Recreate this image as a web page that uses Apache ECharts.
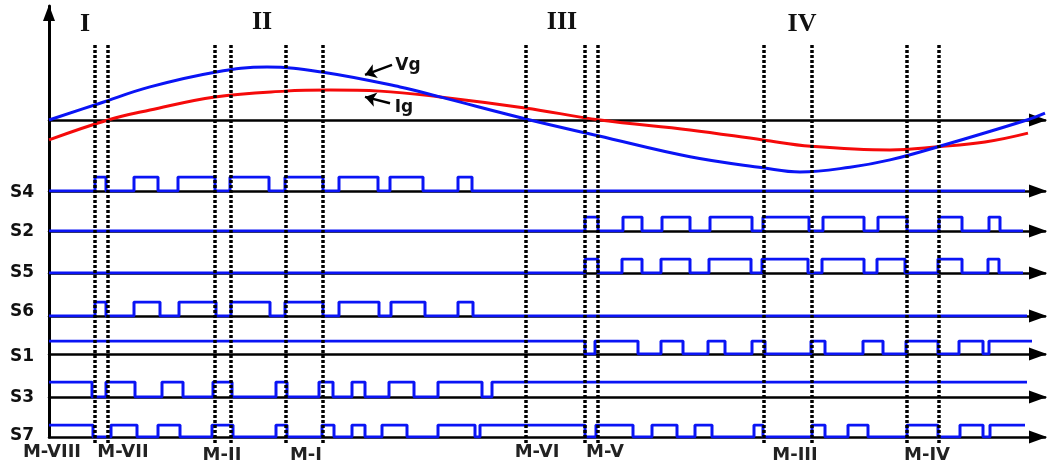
<!DOCTYPE html>
<html><head><meta charset="utf-8">
<script src="https://cdn.jsdelivr.net/npm/echarts@6/dist/echarts.min.js"></script>
<style>html,body{margin:0;padding:0;background:#fff}#c{width:1048px;height:465px}</style>
</head><body><div id="c"></div>
<script>
// ---------- data (time in arbitrary units, 0..996) ----------
const T_MAX = 996;
// grid voltage Vg (per unit)
const vgT = [0, 51, 101, 166, 218, 274, 351, 391, 481, 549, 641, 714, 751, 801, 841, 889, 978, 996];
const vgV = [0, 0.32, 0.63, 0.91, 1.01, 0.91, 0.63, 0.44, 0, -0.30, -0.70, -0.91, -0.99, -0.90, -0.76, -0.51, 0, 0.13];
// grid current Ig (per unit)
const igT = [0, 59, 101, 166, 236, 281, 331, 391, 476, 551, 641, 714, 762, 841, 889, 936, 979];
const igV = [-0.38, 0, 0.19, 0.44, 0.55, 0.57, 0.55, 0.44, 0.23, 0, -0.19, -0.38, -0.50, -0.57, -0.51, -0.42, -0.25];

// switching signals: initial level, toggle instants, end of trace
const signalNames = ['S4', 'S2', 'S5', 'S6', 'S1', 'S3', 'S7'];
const s4Init = 0, s4End = 976;
const s4Edges = [46, 57, 85, 109, 129, 166, 181, 220, 236, 274, 290, 329, 341, 374, 409, 423];
const s2Init = 0, s2End = 974;
const s2Edges = [536, 549, 574, 593, 613, 641, 661, 703, 714, 760, 774, 815, 829, 858, 890, 913, 940, 951];
const s5Init = 0, s5End = 974;
const s5Edges = [536, 549, 573, 593, 612, 641, 660, 702, 713, 759, 773, 815, 828, 856, 889, 913, 939, 950];
const s6Init = 0, s6End = 978;
const s6Edges = [46, 57, 85, 111, 130, 167, 182, 221, 236, 274, 290, 330, 342, 376, 409, 424];
const s1Init = 1, s1End = 983;
const s1Edges = [536, 546, 589, 612, 634, 659, 676, 703, 716, 762, 776, 814, 834, 857, 889, 910, 934, 940];
const s3Init = 1, s3End = 978;
const s3Edges = [43, 57, 86, 113, 134, 164, 183, 227, 238, 270, 284, 303, 316, 340, 365, 389, 433, 443];
const s7Init = 1, s7End = 976;
const s7Edges = [44, 62, 88, 109, 131, 163, 184, 227, 238, 273, 285, 303, 316, 333, 358, 389, 426, 431,
                 536, 547, 584, 603, 628, 646, 663, 705, 714, 763, 776, 799, 819, 858, 889, 911, 934, 941];

// mode boundaries (dotted lines)
const modeLines = [46, 59, 166, 182, 237, 274, 477, 536, 549, 715, 763, 858, 890];
const modeLabels = ['M-VIII', 'M-VII', 'M-II', 'M-I', 'M-VI', 'M-V', 'M-III', 'M-IV'];
const regionLabels = ['I', 'II', 'III', 'IV'];

// ---------- layout ----------
const L = 49, R = 3;
const rowLayout = [ // [top(high level), height]
  [177, 14], [217, 14], [259, 14], [302, 14], [341, 13], [382, 15], [425, 12]
];
const labelY = [193, 232, 273, 312, 357, 398, 436];
const modeLabelPos = [[52, 452], [123, 452], [222, 455], [306, 455], [537, 452], [605, 452], [795, 455], [927, 455]];
const regionPos = [[85, 24], [262, 22], [562, 22], [802, 24]];

const signals = [
  [s4Init, s4Edges, s4End], [s2Init, s2Edges, s2End], [s5Init, s5Edges, s5End], [s6Init, s6Edges, s6End],
  [s1Init, s1Edges, s1End], [s3Init, s3Edges, s3End], [s7Init, s7Edges, s7End]
];
function stepData(init, edges, end) {
  const d = [[0, init]];
  let lv = init;
  edges.forEach(e => { lv = 1 - lv; d.push([e, lv]); });
  d.push([end, lv]);
  return d;
}

const BLUE = '#0a14f5', RED = '#f50a0a', BLACK = '#000';
const grids = [], xAxes = [], yAxes = [], series = [];

function hiddenX(gi) {
  return { type: 'value', gridIndex: gi, min: 0, max: T_MAX, show: false };
}
function arrowX(gi) {
  return {
    type: 'value', gridIndex: gi, min: 0, max: T_MAX,
    axisLine: { show: true, onZero: true, symbol: ['none', 'triangle'], symbolSize: [13, 18],
      symbolOffset: [0, -7], lineStyle: { color: BLACK, width: 2.5 } },
    axisTick: { show: false }, axisLabel: { show: false }, splitLine: { show: false }
  };
}

// grid 0: frame with vertical axis
grids.push({ left: L, right: R, top: 6, bottom: 28 });
xAxes.push(hiddenX(0));
yAxes.push({
  type: 'value', gridIndex: 0, min: 0, max: 1,
  axisLine: { show: true, symbol: ['none', 'triangle'], symbolSize: [12, 16], symbolOffset: [0, -7],
    lineStyle: { color: BLACK, width: 3 } },
  axisTick: { show: false }, axisLabel: { show: false }, splitLine: { show: false }
});

// grid 1: waveform
grids.push({ left: L, right: R, top: 15, height: 210 });
xAxes.push(arrowX(1));
yAxes.push({ type: 'value', gridIndex: 1, min: -2, max: 2, show: false });
series.push({
  type: 'line', xAxisIndex: 1, yAxisIndex: 1, smooth: 0.4, showSymbol: false, z: 3,
  data: igT.map((t, i) => [t, igV[i]]), lineStyle: { color: RED, width: 3 },
  markLine: {
    silent: true, symbol: ['none', 'arrow'], symbolSize: 11, label: { show: false },
    lineStyle: { color: BLACK, width: 2.5, type: 'solid' },
    data: [[{ coord: [341, 0.32] }, { coord: [316, 0.44] }]]
  }
});
series.push({
  type: 'line', xAxisIndex: 1, yAxisIndex: 1, smooth: 0.4, showSymbol: false, z: 3,
  data: vgT.map((t, i) => [t, vgV[i]]), lineStyle: { color: BLUE, width: 3 },
  markLine: {
    silent: true, symbol: ['none', 'arrow'], symbolSize: 11, label: { show: false },
    lineStyle: { color: BLACK, width: 2.5, type: 'solid' },
    data: [[{ coord: [343, 1.05] }, { coord: [316, 0.86] }]]
  }
});

// signal rows
signals.forEach((s, k) => {
  const gi = grids.length;
  grids.push({ left: L, right: R, top: rowLayout[k][0], height: rowLayout[k][1] });
  xAxes.push(arrowX(gi));
  yAxes.push({ type: 'value', gridIndex: gi, min: 0, max: 1, show: false });
  series.push({
    type: 'line', xAxisIndex: gi, yAxisIndex: gi, step: 'end', showSymbol: false, z: 3,
    data: stepData(s[0], s[1], s[2]), lineStyle: { color: BLUE, width: 3 }
  });
});

// dotted mode lines
const gd = grids.length;
grids.push({ left: L, right: R, top: 43, bottom: 22 });
xAxes.push(hiddenX(gd));
yAxes.push({ type: 'value', gridIndex: gd, min: 0, max: 1, show: false });
series.push({
  type: 'line', xAxisIndex: gd, yAxisIndex: gd, data: [], z: 10,
  markLine: {
    silent: true, symbol: 'none', label: { show: false }, animation: false,
    lineStyle: { color: BLACK, width: 3.5, type: [3, 2], opacity: 1 },
    data: modeLines.map(v => ({ xAxis: v }))
  }
});

const graphic = [];
signalNames.forEach((n, k) => graphic.push({
  type: 'text', x: 22, y: labelY[k],
  style: { text: n, font: 'bold 17px "DejaVu Sans"', fill: '#111', textAlign: 'center', textVerticalAlign: 'middle' }
}));
modeLabels.forEach((n, k) => graphic.push({
  type: 'text', x: modeLabelPos[k][0], y: modeLabelPos[k][1],
  style: { text: n, font: 'bold 18px "DejaVu Sans"', fill: '#222', textAlign: 'center', textVerticalAlign: 'middle' }
}));
regionLabels.forEach((n, k) => graphic.push({
  type: 'text', x: regionPos[k][0], y: regionPos[k][1],
  style: { text: n, font: 'bold 26px "Liberation Serif"', fill: '#111', textAlign: 'center', textVerticalAlign: 'middle' }
}));
graphic.push({ type: 'text', x: 408, y: 66,
  style: { text: 'Vg', font: 'bold 17px "DejaVu Sans"', fill: '#111', textAlign: 'center', textVerticalAlign: 'middle' } });
graphic.push({ type: 'text', x: 404, y: 108,
  style: { text: 'Ig', font: 'bold 17px "DejaVu Sans"', fill: '#111', textAlign: 'center', textVerticalAlign: 'middle' } });

const chart = echarts.init(document.getElementById('c'), null, { renderer: 'canvas' });
chart.setOption({
  animation: false, backgroundColor: '#fff',
  grid: grids, xAxis: xAxes, yAxis: yAxes, series: series, graphic: graphic
});
</script></body></html>
